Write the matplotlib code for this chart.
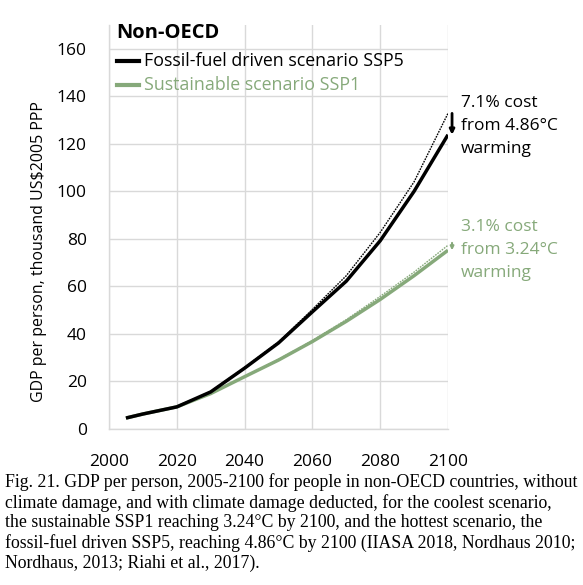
import matplotlib
matplotlib.use("Agg")
import matplotlib.pyplot as plt

years = [2005, 2010, 2020, 2030, 2040, 2050, 2060, 2070, 2080, 2090, 2100]
ssp5_nodamage = [4.6, 6.3, 9.3, 15.8, 25.9, 36.6, 50.3, 64.5, 82.7, 104.0, 132.8]
ssp5_damaged = [4.6, 6.3, 9.3, 15.6, 25.6, 36.2, 49.3, 62.2, 79.2, 100.0, 123.8]
ssp1_nodamage = [4.6, 6.3, 9.3, 15.0, 22.1, 29.3, 37.2, 46.0, 55.8, 66.0, 77.3]
ssp1_damaged = [4.6, 6.3, 9.3, 14.9, 22.0, 29.0, 36.8, 45.3, 54.5, 64.5, 75.2]

series_labels = ["Fossil-fuel driven scenario SSP5", "Sustainable scenario SSP1"]
title_text = "Non-OECD"
ylabel_text = "GDP per person, thousand US$2005 PPP"
xticks = [2000, 2020, 2040, 2060, 2080, 2100]
yticks = [0, 20, 40, 60, 80, 100, 120, 140, 160]
ann5 = "7.1% cost\nfrom 4.86°C\nwarming"
ann1 = "3.1% cost\nfrom 3.24°C\nwarming"
caption = ("Fig. 21. GDP per person, 2005-2100 for people in non-OECD countries, without\n"
           "climate damage, and with climate damage deducted, for the coolest scenario,\n"
           "the sustainable SSP1 reaching 3.24°C by 2100, and the hottest scenario, the\n"
           "fossil-fuel driven SSP5, reaching 4.86°C by 2100 (IIASA 2018, Nordhaus 2010;\n"
           "Nordhaus, 2013; Riahi et al., 2017).")

BLACK = "#000000"
GREEN = "#86A97A"
GRID = "#D9D9D9"
FONT = "Open Sans"

fig = plt.figure(figsize=(5.83, 5.85), dpi=100)
ax = fig.add_axes([0.187, 0.2667, 0.5814, 0.6906])
ax.set_xlim(2000, 2100)
ax.set_ylim(0, 170)
ax.set_xticks(xticks)
ax.set_yticks(yticks)
ax.grid(True, color=GRID, linewidth=1.0)
ax.set_axisbelow(True)
for s in ["top", "right"]:
    ax.spines[s].set_visible(False)
for s in ["left", "bottom"]:
    ax.spines[s].set_color(GRID)
    ax.spines[s].set_linewidth(1.0)
ax.tick_params(length=0, labelsize=12.5, colors="black")
ax.tick_params(axis="x", pad=18)
ax.tick_params(axis="y", pad=16)
for lab in ax.get_xticklabels() + ax.get_yticklabels():
    lab.set_fontfamily(FONT)

ax.plot(years, ssp1_nodamage, color=GREEN, linestyle=(0, (1.2, 0.8)), linewidth=1.0)
ax.plot(years, ssp1_damaged, color=GREEN, linewidth=2.5, solid_capstyle="butt")
ax.plot(years, ssp5_nodamage, color=BLACK, linestyle=(0, (1.2, 0.8)), linewidth=1.0)
ax.plot(years, ssp5_damaged, color=BLACK, linewidth=2.5, solid_capstyle="butt")

# y-axis title placed in figure pixels
fig.text(39 / 583, 1 - 252 / 585, ylabel_text, fontsize=11.5, fontfamily=FONT,
         rotation=90, ha="center", va="center")

# arrows showing climate damage
ax.annotate("", xy=(2101.2, ssp5_damaged[-1]), xytext=(2101.2, ssp5_nodamage[-1]),
            xycoords="data", annotation_clip=False,
            arrowprops=dict(arrowstyle="-|>", color=BLACK, lw=2.0,
                            mutation_scale=7, shrinkA=0, shrinkB=0))
ax.annotate("", xy=(2101.2, ssp1_damaged[-1]), xytext=(2101.2, ssp1_nodamage[-1] + 1.0),
            xycoords="data", annotation_clip=False,
            arrowprops=dict(arrowstyle="-|>", color=GREEN, lw=1.5,
                            mutation_scale=5, shrinkA=0, shrinkB=0))

fig.text(461 / 583, 1 - 95 / 585, ann5, fontsize=12.5, fontfamily=FONT,
         color=BLACK, va="top", ha="left", linespacing=1.6)
fig.text(461 / 583, 1 - 219 / 585, ann1, fontsize=12.5, fontfamily=FONT,
         color=GREEN, va="top", ha="left", linespacing=1.6)

# title and legend
fig.text(116 / 583, 1 - 33 / 585, title_text, fontsize=14.5, fontweight="bold",
         fontfamily=FONT, va="center", ha="left")
fig.add_artist(plt.Line2D([117 / 583, 139 / 583], [1 - 61 / 585, 1 - 61 / 585],
                          color=BLACK, linewidth=3.0, transform=fig.transFigure))
fig.add_artist(plt.Line2D([117 / 583, 139 / 583], [1 - 85 / 585, 1 - 85 / 585],
                          color=GREEN, linewidth=3.0, transform=fig.transFigure))
fig.text(144 / 583, 1 - 61 / 585, series_labels[0], fontsize=12.8, fontfamily=FONT,
         color=BLACK, va="center", ha="left")
fig.text(144 / 583, 1 - 85 / 585, series_labels[1], fontsize=12.8, fontfamily=FONT,
         color=GREEN, va="center", ha="left")

fig.text(5 / 583, 1 - 473 / 585, caption, fontsize=12.8, fontfamily="Liberation Serif",
         va="top", ha="left", linespacing=1.2)

fig.savefig("out.png", dpi=100)
